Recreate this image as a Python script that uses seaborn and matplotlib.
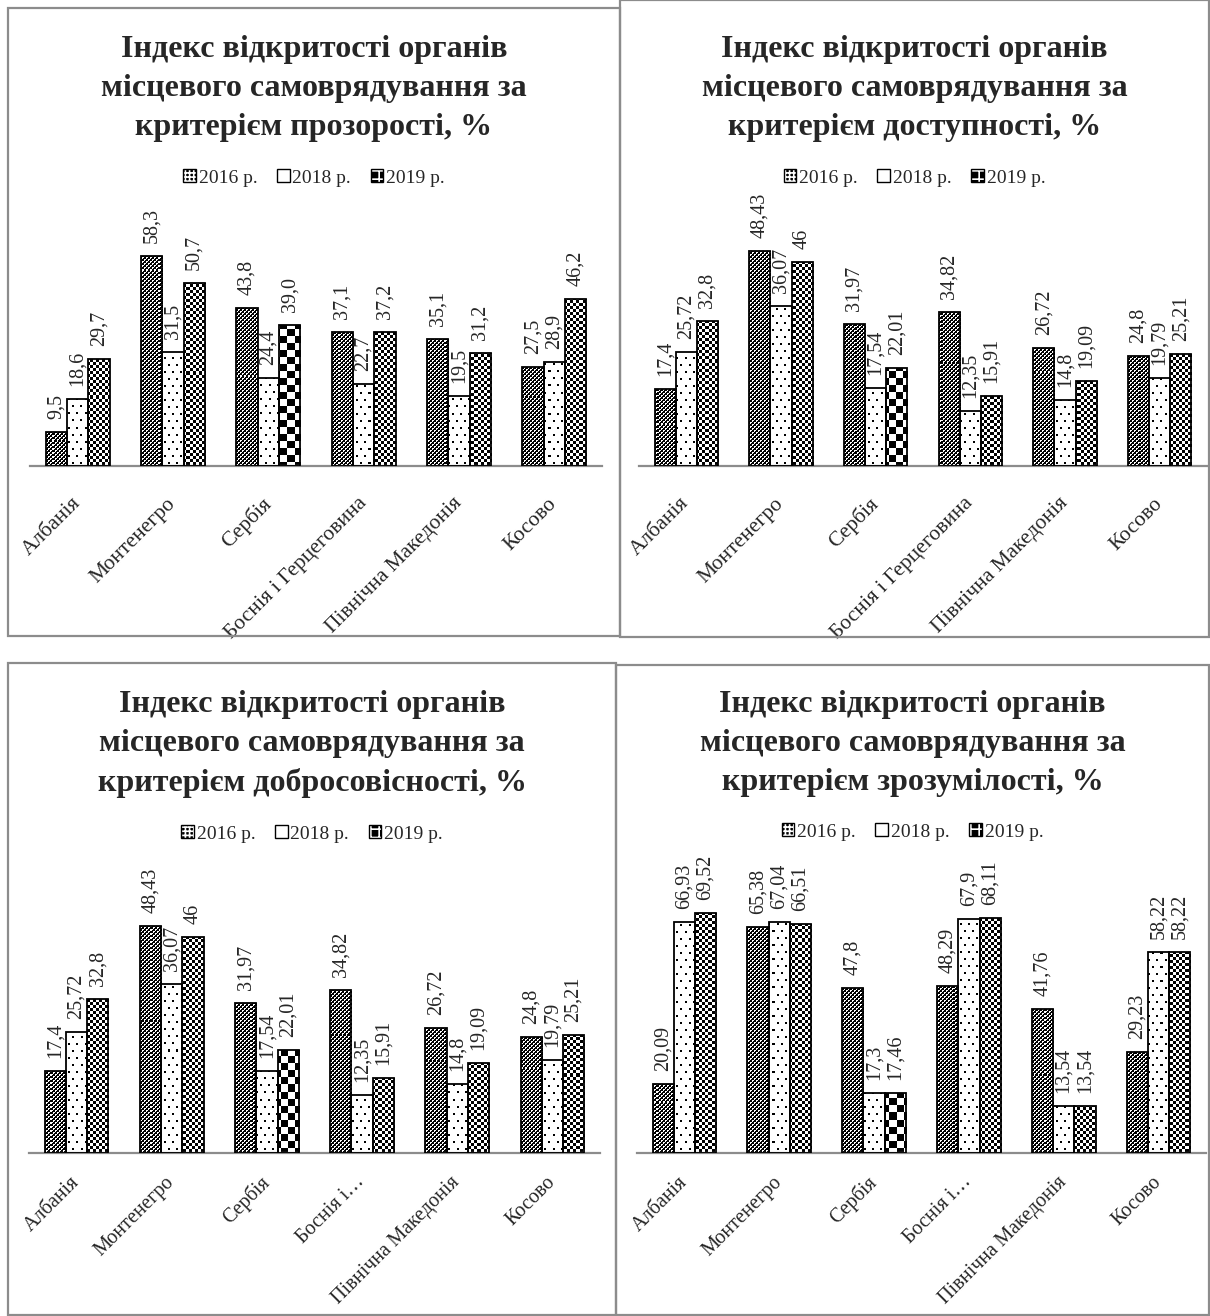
import numpy as np
import pandas as pd
import matplotlib
matplotlib.use("Agg")
import matplotlib.pyplot as plt
from matplotlib.patches import Rectangle, Patch
from matplotlib.legend_handler import HandlerTuple
import seaborn as sns

# ---- data -------------------------------------------------------------
countries_full = ["Албанія", "Монтенегро", "Сербія", "Боснія і Герцеговина",
                  "Північна Македонія", "Косово"]
countries_short = ["Албанія", "Монтенегро", "Сербія", "Боснія і…",
                   "Північна Македонія", "Косово"]
years = ["2016 р.", "2018 р.", "2019 р."]

transparency_2016 = [9.5, 58.3, 43.8, 37.1, 35.1, 27.5]
transparency_2018 = [18.6, 31.5, 24.4, 22.7, 19.5, 28.9]
transparency_2019 = [29.7, 50.7, 39.0, 37.2, 31.2, 46.2]

accessibility_2016 = [17.4, 48.43, 31.97, 34.82, 26.72, 24.8]
accessibility_2018 = [25.72, 36.07, 17.54, 12.35, 14.8, 19.79]
accessibility_2019 = [32.8, 46, 22.01, 15.91, 19.09, 25.21]

integrity_2016 = [17.4, 48.43, 31.97, 34.82, 26.72, 24.8]
integrity_2018 = [25.72, 36.07, 17.54, 12.35, 14.8, 19.79]
integrity_2019 = [32.8, 46, 22.01, 15.91, 19.09, 25.21]

clarity_2016 = [20.09, 65.38, 47.8, 48.29, 41.76, 29.23]
clarity_2018 = [66.93, 67.04, 17.3, 67.9, 13.54, 58.22]
clarity_2019 = [69.52, 66.51, 17.46, 68.11, 13.54, 58.22]

titles = [
    "Індекс відкритості органів\nмісцевого самоврядування за\nкритерієм прозорості, %",
    "Індекс відкритості органів\nмісцевого самоврядування за\nкритерієм доступності, %",
    "Індекс відкритості органів\nмісцевого самоврядування за\nкритерієм добросовісності, %",
    "Індекс відкритості органів\nмісцевого самоврядування за\nкритерієм зрозумілості, %",
]

# ---- figure -----------------------------------------------------------
W, H = 1210, 1316
sns.set_theme(style="white")
plt.rcParams["font.family"] = ["Liberation Serif", "DejaVu Serif"]
plt.rcParams["hatch.linewidth"] = 1.2
fig = plt.figure(figsize=(W / 100, H / 100), dpi=100)
fig.patch.set_facecolor("white")


def fx(x):
    return x / W


def fy(y):
    return 1 - y / H


def fmt_one(v):
    return f"{v:.1f}".replace(".", ",")


def fmt_gen(v):
    return f"{v:g}".replace(".", ",")


# bar textures on the global pixel grid (1 = white, 0 = black)
def tex_dense(ix, iy):
    cell = ((ix // 2 + iy // 2) % 2 == 0) & ~((ix % 2 == 1) & (iy % 2 == 1))
    return cell.astype(float)


def tex_dots(ix, iy):
    a = (ix % 8 < 2) & (iy % 14 < 2)
    b = ((ix - 4) % 8 < 2) & ((iy - 7) % 14 < 2)
    return (~(a | b)).astype(float)


def tex_check(ix, iy):
    return (((ix // 3 + iy // 3) % 2) == 1).astype(float)


def tex_big(ix, iy):
    return (((ix // 7 + iy // 7) % 2) == 1).astype(float)


series_tex = [tex_dense, tex_dots, tex_check]

panels = [
    dict(title=titles[0], vals=[transparency_2016, transparency_2018, transparency_2019],
         cats=countries_full, fmt=fmt_one, box=(8, 8, 620, 636),
         ax=(30, 602, 466, 70, 3.61), title_y=35, leg_y=178, tick_fs=15.5, tick_pad=25),
    dict(title=titles[1], vals=[accessibility_2016, accessibility_2018, accessibility_2019],
         cats=countries_full, fmt=fmt_gen, box=(620, 0, 1209, 637),
         ax=(639, 1207, 466, 60, 4.43), title_y=35, leg_y=178, tick_fs=15.5, tick_pad=25),
    dict(title=titles[2], vals=[integrity_2016, integrity_2018, integrity_2019],
         cats=countries_short, fmt=fmt_gen, box=(8, 663, 616, 1315),
         ax=(29, 600, 1153, 60, 4.69), title_y=690, leg_y=834, tick_fs=14.5, tick_pad=19),
    dict(title=titles[3], vals=[clarity_2016, clarity_2018, clarity_2019],
         cats=countries_short, fmt=fmt_gen, box=(616, 665, 1209, 1315),
         ax=(637, 1206, 1153, 80, 3.45), title_y=690, leg_y=832, tick_fs=14.5, tick_pad=19),
]

# small patterned legend keys: texture layer + black frame
legend_keys = [
    (Patch(facecolor="black", edgecolor="white", hatch="++++", linewidth=0),
     Patch(facecolor="none", edgecolor="black", linewidth=1.0)),
    (Patch(facecolor="white", edgecolor="black", linewidth=1.0),),
    (Patch(facecolor="black", edgecolor="white", hatch="++", linewidth=0),
     Patch(facecolor="none", edgecolor="black", linewidth=1.0)),
]

for p in panels:
    bx0, by0, bx1, by1 = p["box"]
    fig.patches.append(Rectangle((fx(bx0), fy(by1)), (bx1 - bx0) / W, (by1 - by0) / H,
                                 transform=fig.transFigure, fill=False,
                                 edgecolor="#8c8c8c", linewidth=1.6, zorder=0))
    cx = (bx0 + bx1) / 2
    fig.text(fx(cx), fy(p["title_y"]), p["title"], ha="center", va="top",
             fontsize=23, fontweight="bold", linespacing=1.45)

    x0, x1, ybase, ymax, k = p["ax"]
    ytop = ybase - ymax * k
    ax = fig.add_axes([fx(x0), fy(ybase), (x1 - x0) / W, (ybase - ytop) / H])

    df = pd.DataFrame({
        "country": np.tile(p["cats"], 3),
        "year": np.repeat(years, 6),
        "value": np.concatenate(p["vals"]),
    })
    sns.barplot(data=df, x="country", y="value", hue="year", order=p["cats"],
                hue_order=years, width=0.67, gap=0, errorbar=None, legend=False,
                palette=["white"] * 3, ax=ax)
    ax.set_ylim(0, ymax)
    ax.set_xlim(-0.5, 5.5)
    ax.set_yticks([])
    ax.set_xlabel("")
    ax.set_ylabel("")
    for side in ["left", "right", "top"]:
        ax.spines[side].set_visible(False)
    ax.spines["bottom"].set_color("#8c8c8c")
    ax.spines["bottom"].set_linewidth(1.6)
    ax.set_facecolor("none")
    ax.set_xticks(range(6))
    ax.set_xticklabels(p["cats"], rotation=45, ha="right", va="center",
                       rotation_mode="anchor", fontsize=p["tick_fs"])
    ax.tick_params(axis="x", length=0, pad=p["tick_pad"])

    inv = ax.transData.inverted()
    for s, cont in enumerate(ax.containers):
        for i, bar in enumerate(cont):
            v = p["vals"][s][i]
            tex = tex_big if (s == 2 and p["cats"][i] == "Сербія") else series_tex[s]
            bx = bar.get_x()
            bw = bar.get_width()
            (dx0, dy0) = ax.transData.transform((bx, 0))
            (dx1, dy1) = ax.transData.transform((bx + bw, v))
            px0, px1 = int(np.floor(dx0)), int(np.ceil(dx1))
            py0, py1 = int(np.floor(dy0)), int(np.ceil(dy1))
            rows = H - np.arange(py1, py0, -1)
            cols = np.arange(px0, px1)
            IX, IY = np.meshgrid(cols, rows)
            arr = tex(IX, IY)
            (ex0, ey0) = inv.transform((px0, py0))
            (ex1, ey1) = inv.transform((px1, py1))
            im = ax.imshow(arr, cmap="gray", vmin=0, vmax=1, origin="upper",
                           extent=(ex0, ex1, ey0, ey1), interpolation="nearest",
                           aspect="auto", zorder=2)
            im.set_clip_path(bar)
            bar.set_facecolor("none")
            bar.set_edgecolor("black")
            bar.set_linewidth(1.3)
            bar.set_zorder(3)
            ax.annotate(p["fmt"](v), (bx + bw / 2, v), xytext=(0, 13),
                        textcoords="offset pixels", rotation=90,
                        ha="center", va="bottom", fontsize=14.5)
    ax.set_xlim(-0.5, 5.5)
    ax.set_ylim(0, ymax)

    fig.legend(legend_keys, years, loc="center", bbox_to_anchor=(fx(cx), fy(p["leg_y"])),
               ncol=3, frameon=False, fontsize=14, handlelength=0.65,
               handleheight=0.65, handletextpad=0.15, columnspacing=1.0,
               borderpad=0, borderaxespad=0,
               handler_map={tuple: HandlerTuple(ndivide=1, pad=0)})

fig.savefig("out.png", dpi=100, facecolor="white")
